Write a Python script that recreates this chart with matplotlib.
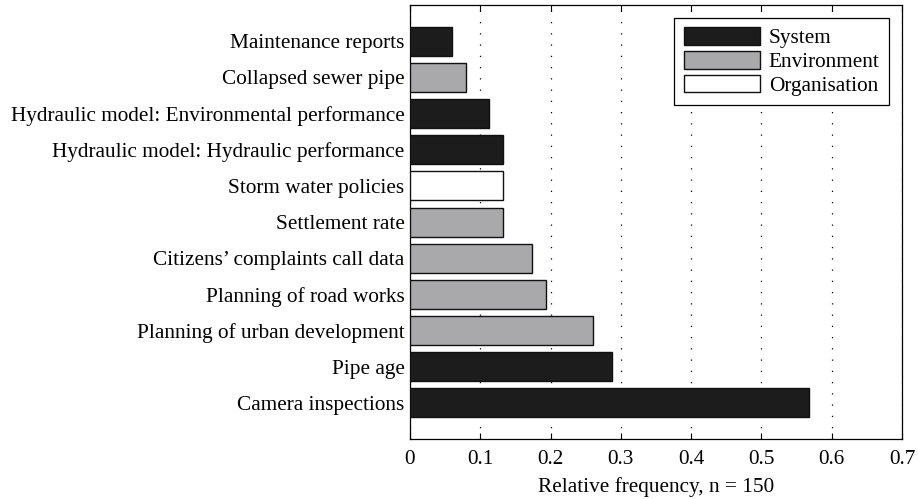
import numpy as np
import matplotlib
matplotlib.use("Agg")
import matplotlib.pyplot as plt
from matplotlib.patches import Patch

# data, listed top to bottom as in the figure
labels = ["Maintenance reports", "Collapsed sewer pipe",
          "Hydraulic model: Environmental performance",
          "Hydraulic model: Hydraulic performance",
          "Storm water policies", "Settlement rate",
          "Citizens\u2019 complaints call data", "Planning of road works",
          "Planning of urban development", "Pipe age", "Camera inspections"]
freq = [0.060, 0.080, 0.113, 0.133, 0.133, 0.133, 0.173, 0.193, 0.260, 0.287, 0.567]
group = ["System", "Environment", "System", "System", "Organisation",
         "Environment", "Environment", "Environment", "Environment",
         "System", "System"]
groups = ["System", "Environment", "Organisation"]
colours = {"System": "#1c1c1c", "Environment": "#a9a9ac", "Organisation": "#ffffff"}
xticks = [0, 0.1, 0.2, 0.3, 0.4, 0.5, 0.6, 0.7]

plt.rcParams["font.family"] = ["Liberation Serif", "DejaVu Serif"]
plt.rcParams["font.size"] = 15.3

fig = plt.figure(figsize=(9.18, 4.99), dpi=100)
ax = fig.add_axes([0.4466, 0.12, 0.536, 0.87])

n = len(labels)
ypos = np.arange(n)[::-1]
ax.barh(ypos, freq, height=0.8, color=[colours[g] for g in group],
        edgecolor="#111111", linewidth=1.0, zorder=3)

ax.set_yticks(ypos)
ax.set_yticklabels(labels)
ax.set_ylim(-1, n)
ax.set_xlim(0, 0.7)
ax.set_xticks(xticks)
ax.set_xticklabels(["0"] + ["%.1f" % v for v in xticks[1:]])
ax.set_xlabel("Relative frequency, n = 150", labelpad=6)

ax.xaxis.grid(True, linestyle=(0, (1, 8)), color="black", linewidth=0.9, zorder=0)
ax.tick_params(axis="x", direction="in", top=True, length=4, pad=8)
ax.tick_params(axis="y", length=0, pad=4)
for s in ax.spines.values():
    s.set_linewidth(0.9)

handles = [Patch(facecolor=colours[g], edgecolor="#111111", linewidth=1.0, label=g)
           for g in groups]
ax.legend(handles=handles, loc="upper right", handlelength=3.6, handleheight=0.9,
          fancybox=False, edgecolor="black", framealpha=1, borderaxespad=0.6,
          labelspacing=0.12, handletextpad=0.4, borderpad=0.45)
ax.get_legend().get_frame().set_linewidth(0.9)

fig.savefig("out.png", dpi=100)
